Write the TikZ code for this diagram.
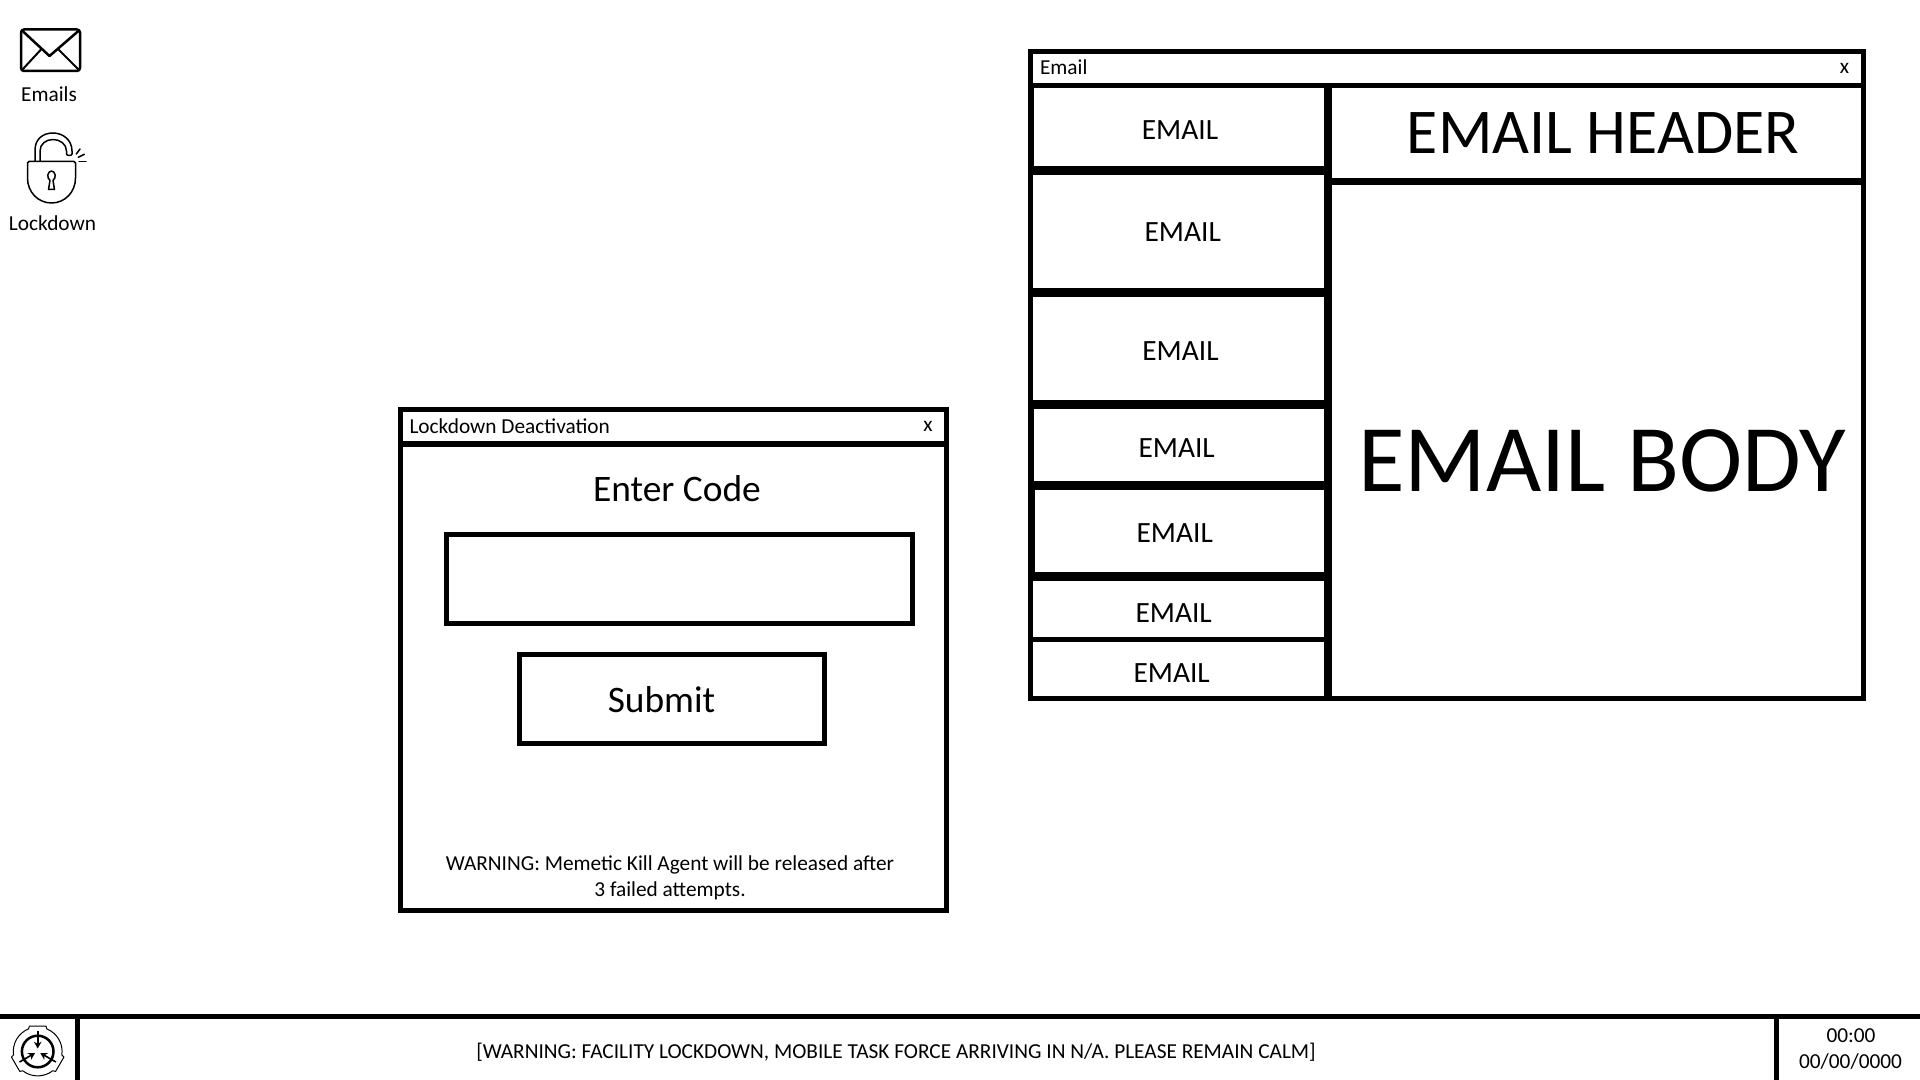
\documentclass[tikz,border=0pt]{standalone}
\usepackage{fontspec}
\setmainfont{Carlito}
\usetikzlibrary{arrows.meta}
\newcommand{\fs}[1]{\fontsize{#1}{#1}\selectfont}
\tikzset{
  lab/.style={inner sep=0pt,outer sep=0pt,anchor=base,text=black},
  labl/.style={lab,anchor=base west},
  frame/.style={draw=black,line width=2.5pt,fill=white},
  bar/.style={fill=black,draw=none},
  icon/.style={draw=black,line width=1.25pt,line join=round,line cap=round},
  thin icon/.style={draw=black,line width=0.75pt,line join=round,line cap=round},
}
\begin{document}
\begin{tikzpicture}[x=0.5pt,y=-0.5pt]
\useasboundingbox (0,0) rectangle (1920,1080);
\fill[white] (0,0) rectangle (1920,1080);

% ---- Email window
\draw[frame] (1030.5,51.5) rectangle (1863.5,698.5);
\fill[bar] (1028,83) rectangle (1866,88);
\fill[bar] (1324,85) rectangle (1331.5,700);
\fill[bar] (1328,178) rectangle (1866,185);
\fill[bar] (1030,166) rectangle (1328,175);
\fill[bar] (1030,288) rectangle (1328,297);
\fill[bar] (1030,400) rectangle (1328,409);
\fill[bar] (1030,481) rectangle (1328,490);
\fill[bar] (1030,572) rectangle (1328,581);
\fill[bar] (1030,637) rectangle (1328,642);
\fill[bar] (1033,85) rectangle (1034,166);
\fill[bar] (1033,409) rectangle (1034,481);
\fill[bar] (1033,490) rectangle (1035,572);
\node[labl,font=\fs{10.66}] (emailtitle) at (1040,75) {Email};
\node[lab,font=\fs{10.66}] (emailx) at (1844.5,74) {x};
\node[lab,font=\fs{14.7}] (e1) at (1180,140) {EMAIL};
\node[lab,font=\fs{14.7}] (e2) at (1182.7,242) {EMAIL};
\node[lab,font=\fs{14.7}] (e3) at (1180.5,360.5) {EMAIL};
\node[lab,font=\fs{14.7}] (e4) at (1176.7,457.5) {EMAIL};
\node[lab,font=\fs{14.7}] (e5) at (1174.7,542.5) {EMAIL};
\node[lab,font=\fs{14.7}] (e6) at (1173.7,622.7) {EMAIL};
\node[lab,font=\fs{14.7}] (e7) at (1171.7,682.7) {EMAIL};
\node[lab,font=\fs{31.9}] (ehead) at (1603,154) {EMAIL HEADER};
\node[lab,font=\fs{47.7}] (ebody) at (1602,491) {EMAIL BODY};

% ---- Lockdown window
\draw[frame] (400.5,409.5) rectangle (946.5,910.5);
\fill[bar] (398,441) rectangle (949,447);
\draw[frame] (446.5,534.5) rectangle (912.5,623);
\draw[frame] (519,654.5) rectangle (824,743.5);
\node[labl,font=\fs{10.66}] (locktitle) at (409.5,433.5) {Lockdown Deactivation};
\node[lab,font=\fs{10.66}] (lockx) at (928,431.5) {x};
\node[lab,font=\fs{18.7}] (enter) at (677,501) {Enter Code};
\node[lab,font=\fs{18.7}] (submit) at (661.5,712.5) {Submit};
\node[lab,font=\fs{10.66}] (warn1) at (670,870.5) {WARNING: Memetic Kill Agent will be released after};
\node[lab,font=\fs{10.66}] (warn2) at (670,896.5) {3 failed attempts.};

% ---- Desktop icons
\draw[icon,rounded corners=1.5pt] (21,29.5) rectangle (80,71);
\draw[icon] (22,30.5) -- (49.5,56) -- (79,30.5);
\draw[icon,line width=1pt] (22,70) -- (41.5,49);
\draw[icon,line width=1pt] (79,70) -- (58,49);
\node[lab,font=\fs{10.66}] (emails) at (49,101.5) {Emails};

% lock
\draw[thin icon] (29,161.5) -- (74,161.5) -- (75.5,163) -- (75.5,178) .. controls (75.5,192) and (65,203) .. (51.5,203) .. controls (38,203) and (27.5,192) .. (27.5,178) -- (27.5,163) -- cycle;
\draw[thin icon] (35,161) -- (35,150) .. controls (35,139) and (43,133) .. (53,133) .. controls (63,133) and (72,140) .. (72,151) -- (72,154) .. controls (72,156) and (66.5,156) .. (66.5,154) -- (66.5,151) .. controls (66.5,144) and (60,139.5) .. (53,139.5) .. controls (46,139.5) and (40,144) .. (40,151) -- (40,161);
\draw[thin icon] (48.5,189.5) -- (54.5,189.5) -- (53,180.5) .. controls (57,177.5) and (55,171) .. (51.5,171) .. controls (48,171) and (46,177.5) .. (50,180.5) -- cycle;
\draw[thin icon] (76.3,154) -- (80,149);
\draw[thin icon] (78.3,157.3) -- (84.3,154.3);
\draw[thin icon] (79,161.7) -- (86,161.7);
\node[lab,font=\fs{10.66}] (lockdown) at (52.5,231) {Lockdown};

% ---- Task bar
\fill[bar] (0,1014) rectangle (1920,1019);
\fill[bar] (74.5,1014) rectangle (79.5,1080);
\fill[bar] (1774,1014) rectangle (1779,1080);
\node[lab,font=\fs{10.66}] (warnbar) at (896,1058) {[WARNING: FACILITY LOCKDOWN, MOBILE TASK FORCE ARRIVING IN N/A. PLEASE REMAIN CALM]};
\node[lab,font=\fs{10.66}] (clock) at (1851,1042.5) {00:00};
\node[lab,font=\fs{10.66}] (date) at (1850.5,1068) {00/00/0000};

% SCP logo
\begin{scope}[shift={(37.7,1051.5)}]
  \draw[black,line width=0.5pt,line join=round]
    (72:13.4pt) -- (108:13.4pt) -- (112:12.2pt) arc (112:188:12.2pt)
    -- (192:13.4pt) -- (228:13.4pt) -- (232:12.2pt) arc (232:308:12.2pt)
    -- (312:13.4pt) -- (348:13.4pt) -- (352:12.2pt) arc (352:428:12.2pt) -- cycle;
  \draw[black,line width=1.25pt] (0,0) circle[radius=7.9pt];
  \foreach \a in {90,210,330}{
    \draw[black,line width=0.8pt,-{Stealth[length=3.4pt,width=3.8pt]}] (\a:10.5pt) -- (\a:1.5pt);
  }
\end{scope}
\end{tikzpicture}
\end{document}
